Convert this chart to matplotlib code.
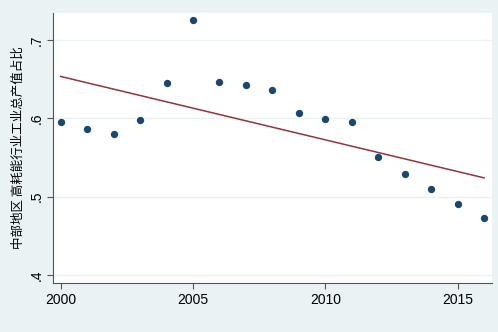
import numpy as np
import matplotlib
matplotlib.use("Agg")
import matplotlib.pyplot as plt

plt.rcParams['font.family'] = ['Liberation Sans', 'Noto Sans CJK SC', 'DejaVu Sans']

years = [2000, 2001, 2002, 2003, 2004, 2005, 2006, 2007, 2008,
         2009, 2010, 2011, 2012, 2013, 2014, 2015, 2016]
share = [0.595, 0.586, 0.580, 0.598, 0.645, 0.725, 0.646, 0.643, 0.636,
         0.607, 0.599, 0.595, 0.551, 0.529, 0.510, 0.491, 0.473]
xticks = [2000, 2005, 2010, 2015]
yticks = [0.4, 0.5, 0.6, 0.7]
ylabels = [".4", ".5", ".6", ".7"]

bg = "#eaf2f3"
navy = "#1a476f"
maroon = "#90353b"

fig = plt.figure(figsize=(4.98, 3.32), dpi=100, facecolor=bg)
ax = fig.add_axes([0.1064, 0.1476, 0.8816, 0.8132])
ax.set_facecolor("white")

x = np.array(years)
y = np.array(share)
slope, intercept = np.polyfit(x, y, 1)
ax.plot(x, slope * x + intercept, color=maroon, lw=1.1, zorder=2)
ax.scatter(x, y, s=28, color=navy, zorder=3, linewidths=0)

ax.set_xlim(1999.71, 2016.3)
ax.set_ylim(0.3898, 0.7345)
ax.set_xticks(xticks)
ax.set_yticks(yticks)
ax.set_yticklabels(ylabels, rotation=90, va="center")
ax.grid(axis="y", color="#eaf2f3", lw=1.0, zorder=0)
ax.set_axisbelow(True)

for s in ["top", "right"]:
    ax.spines[s].set_visible(False)
for s in ["left", "bottom"]:
    ax.spines[s].set_color("#555555")
    ax.spines[s].set_linewidth(0.8)
ax.tick_params(direction="out", length=4, width=0.8, color="#555555",
               labelsize=10, pad=3)

ax.set_ylabel("中部地区 高耗能行业工业总产值占比",
              family=['Noto Sans CJK SC', 'DejaVu Sans'],
              fontsize=9, labelpad=3)

fig.savefig("out.png", dpi=100, facecolor=bg)
